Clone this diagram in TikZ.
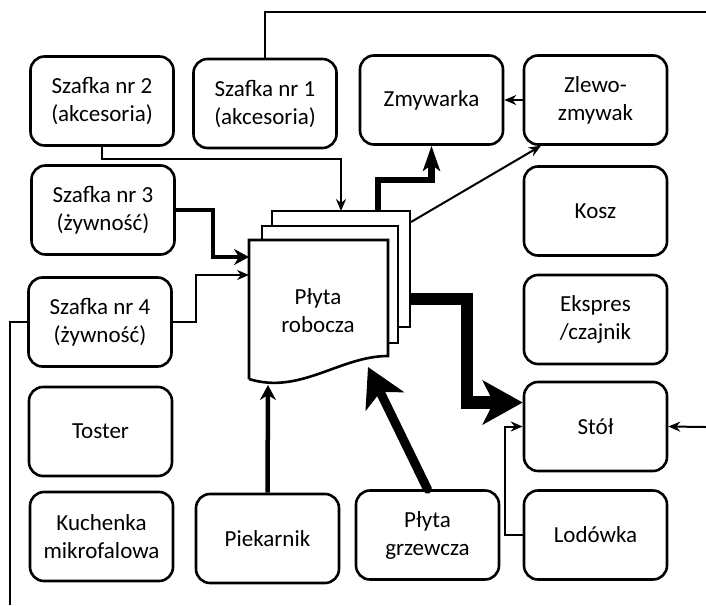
\documentclass[tikz,border=0pt]{standalone}
\usepackage{fontspec}
\setmainfont{Carlito}
\usetikzlibrary{arrows.meta}

\begin{document}
\begin{tikzpicture}[x=1pt,y=-1pt,line width=2pt,>=Stealth,
  box/.style={draw,rounded corners=14pt,line width=2.6pt,minimum width=143pt,
    minimum height=89pt,align=center,inner sep=0pt,
    font=\fontsize{23}{28}\selectfont},
  page/.style={draw,fill=white,line width=2.6pt},
  lnk/.style={-{Stealth[length=12pt,width=10pt,inset=4pt]}},
  lnkmid/.style={line width=4.5pt,-{Stealth[length=15pt,width=16pt,inset=5pt]}},
  lnkbig/.style={line width=6.5pt,-{Stealth[length=25pt,width=17pt,inset=6pt]}}]
  \useasboundingbox (0,0) rectangle (706,605);
  % left column
  \node[box] (s2) at (102,101) {Szafka nr 2\\(akcesoria)};
  \node[box] (s3) at (103,210) {Szafka nr 3\\(żywność)};
  \node[box] (s4) at (100,322) {Szafka nr 4\\(żywność)};
  \node[box] (tost) at (100.5,431.5) {Toster};
  \node[box] (kuch) at (101.5,536.5) {Kuchenka\\mikrofalowa};
  % top row
  \node[box] (s1) at (265,103.5) {Szafka nr 1\\(akcesoria)};
  \node[box] (zmyw) at (431.5,100) {Zmywarka};
  \node[box] (zlew) at (595.5,100) {Zlewo-\\zmywak};
  % right column
  \node[box] (kosz) at (595.5,211) {Kosz};
  \node[box] (eksp) at (595.5,319.5) {Ekspres\\/czajnik};
  \node[box] (stol) at (595.5,426.5) {Stół};
  \node[box] (lod) at (595.5,535) {Lodówka};
  % bottom row
  \node[box] (piek) at (267.5,538.5) {Piekarnik};
  \node[box] (grz) at (427.5,535) {Płyta\\grzewcza};
  % work top: three pages
  \draw[page] (272,211) rectangle (410,327);
  \draw[page] (262,226) rectangle (398,343);
  \draw[page] (249,379) -- (249,240) -- (388,240) -- (388,356)
    .. controls (340,356) and (300,395) .. (249,379);
  \node[align=center,font=\fontsize{23}{28}\selectfont] (plyta) at (318,311) {Płyta\\robocza};
  % connector ends
  \coordinate (outtop) at (706,12);
  \coordinate (outbot) at (10,605);
  \coordinate (outrt) at (706,427);
  \coordinate (pin2) at (341,211);
  \coordinate (pin3) at (249,257);
  \coordinate (pin4) at (249,275);
  \coordinate (pbot) at (268,385);
  \coordinate (pin5) at (368,367);
  \coordinate (pout1) at (378,211);
  \coordinate (pout2) at (411,222);
  \coordinate (pout3) at (410,299);
  % connectors
  \draw (s1.north) -- (s1.north |- outtop) -- (outtop);
  \draw (s4.west) -| (outbot);
  \draw[lnk] (s2.south) -- ++(0,12) -| (pin2);
  \draw[lnkmid,line width=4pt] (s3.east) -- ++(37,0) |- (pin3);
  \draw[lnk] (s4.east) -- ++(23,0) |- (pin4);
  \draw[lnkbig] (pout1) -- ++(0,-31) -| (zmyw.south);
  \draw[lnk] (pout2) -- (zlew.220);
  \draw[lnk] (zlew.west) -- (zmyw.east);
  \draw[line width=12.5pt,-{Stealth[length=40pt,width=44pt,inset=11pt]}]
    (pout3) -- ++(57,0) |- ([yshift=24pt]stol.west);
  \draw[lnk] (outrt) -- (stol.east);
  \draw[lnk] (lod.west) -- ++(-18,0) |- (stol.west);
  \draw[lnkmid] (piek.north) -- (pbot);
  \draw[line width=9pt,line cap=round,-{Stealth[length=38pt,width=42pt,inset=10pt]}]
    (grz.north) -- (pin5);
\end{tikzpicture}
\end{document}
